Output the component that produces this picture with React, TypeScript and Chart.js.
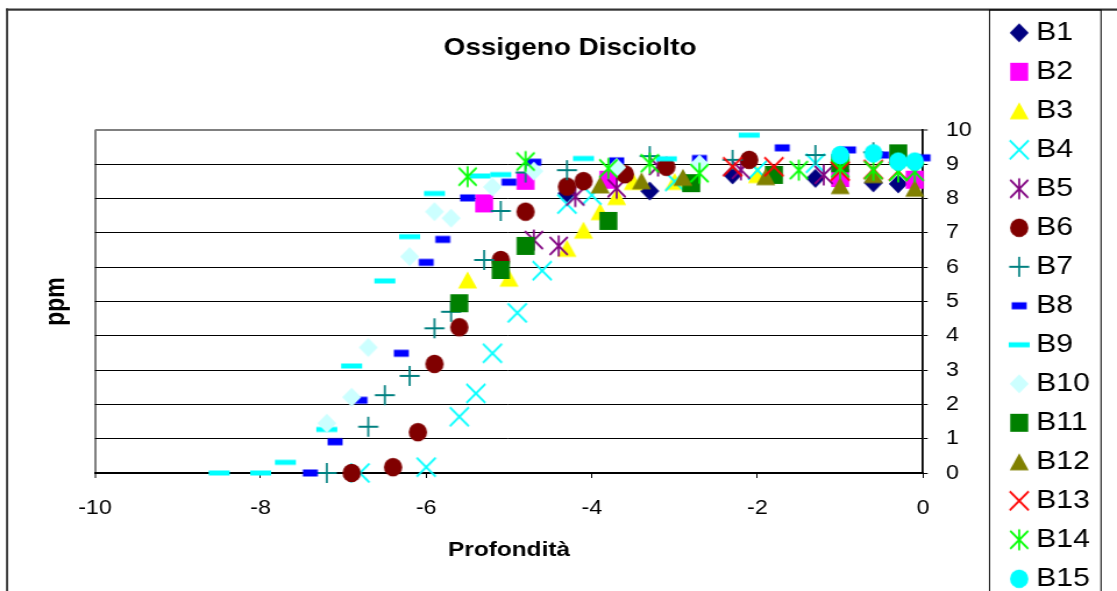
import React, { useEffect, useRef } from 'react';
import { Chart, registerables } from 'chart.js';

Chart.register(...registerables);

const FONT = "'Liberation Sans', Arial, Helvetica, sans-serif";
// the reference picture is stretched horizontally; the canvas is drawn narrower and widened by CSS
const STRETCH = 1117 / 960;
const CANVAS_W = 960;
const CANVAS_H = 760;

const chartTitle = 'Ossigeno Disciolto';
const xAxisTitle = 'Profondità';
const yAxisTitle = 'ppm';

const seriesNames = ['B1', 'B2', 'B3', 'B4', 'B5', 'B6', 'B7', 'B8', 'B9', 'B10', 'B11', 'B12', 'B13', 'B14', 'B15'];
const seriesColors = ['#000080', '#FF00FF', '#FFFF00', '#00FFFF', '#800080', '#800000', '#008080', '#0000FF', '#00FFFF', '#CCFFFF', '#008000', '#808000', '#FF0000', '#00FF00', '#00FFFF'];
const seriesMarkers = ['diamond', 'square', 'triangle', 'x', 'star', 'circle', 'plus', 'dashShort', 'dashLong', 'diamond', 'square', 'triangle', 'x', 'star', 'circle'];

const b1Depth = [-4.3, -3.3, -2.3, -1.3, -0.6, -0.3];
const b1Ppm = [8.15, 8.22, 8.69, 8.59, 8.46, 8.43];
const b2Depth = [-5.3, -4.8, -3.8, -1.0, -0.1];
const b2Ppm = [7.86, 8.52, 8.55, 8.6, 8.55];
const b3Depth = [-5.5, -5.0, -4.3, -4.1, -3.9, -3.7, -3.5, -3.0, -2.0];
const b3Ppm = [5.63, 5.68, 6.55, 7.08, 7.62, 8.06, 8.5, 8.5, 8.7];
const b4Depth = [-6.8, -6.0, -5.6, -5.4, -5.2, -4.9, -4.6, -4.3, -4.0, -3.0, -2.0, -1.3];
const b4Ppm = [0, 0.17, 1.64, 2.32, 3.49, 4.67, 5.9, 7.84, 8.1, 8.5, 8.83, 9.03];
const b5Depth = [-4.7, -4.4, -4.2, -3.7, -3.2, -2.2, -1.2];
const b5Ppm = [6.79, 6.62, 8.06, 8.3, 8.95, 8.84, 8.69];
const b6Depth = [-6.9, -6.4, -6.1, -5.9, -5.6, -5.1, -4.8, -4.3, -4.1, -3.6, -3.1, -2.1];
const b6Ppm = [0, 0.17, 1.19, 3.18, 4.25, 6.21, 7.62, 8.35, 8.51, 8.71, 8.93, 9.13];
const b7Depth = [-7.2, -6.7, -6.5, -6.2, -5.9, -5.7, -5.3, -5.1, -4.8, -4.3, -3.3, -2.3, -1.3, -0.6];
const b7Ppm = [0, 1.35, 2.27, 2.83, 4.22, 4.7, 6.21, 7.64, 8.76, 8.83, 9.24, 9.13, 9.27, 9.35];
const b8Depth = [-7.4, -7.1, -6.8, -6.3, -6.0, -5.8, -5.5, -5.0, -4.7, -3.7, -2.7, -1.7, -0.9, -0.5, 0];
const b8Ppm = [0, 0.91, 2.12, 3.49, 6.14, 6.81, 8.02, 8.48, 9.06, 9.1, 9.17, 9.48, 9.42, 9.27, 9.19];
const b9Depth = [-8.5, -8.0, -7.7, -7.2, -6.9, -6.5, -6.2, -5.9, -5.35, -5.1, -4.1, -3.1, -2.1];
const b9Ppm = [0, 0, 0.31, 1.27, 3.12, 5.6, 6.89, 8.15, 8.66, 8.7, 9.17, 9.16, 9.85];
const b10Depth = [-7.2, -6.9, -6.7, -6.2, -5.9, -5.7, -5.2, -4.7, -3.7, -2.7];
const b10Ppm = [1.45, 2.21, 3.66, 6.31, 7.62, 7.43, 8.34, 8.8, 8.91, 9.01];
const b11Depth = [-5.6, -5.1, -4.8, -3.8, -2.8, -1.8, -1.0, -0.3];
const b11Ppm = [4.95, 5.92, 6.62, 7.35, 8.45, 8.69, 9.03, 9.32];
const b12Depth = [-3.9, -3.4, -2.9, -1.9, -1.0, -0.6, -0.1];
const b12Ppm = [8.4, 8.52, 8.62, 8.64, 8.38, 8.7, 8.3];
const b13Depth = [-2.3, -1.8, -1.0, -0.6, -0.3];
const b13Ppm = [8.93, 8.93, 8.8, 8.85, 8.8];
const b14Depth = [-5.5, -4.8, -3.8, -3.3, -2.7, -1.5, -1.0, -0.6, -0.3, -0.1];
const b14Ppm = [8.64, 9.08, 8.88, 9.03, 8.74, 8.83, 8.88, 8.83, 8.78, 8.78];
const b15Depth = [-1.0, -0.6, -0.3, -0.1];
const b15Ppm = [9.27, 9.32, 9.08, 9.08];

const seriesDepths = [b1Depth, b2Depth, b3Depth, b4Depth, b5Depth, b6Depth, b7Depth, b8Depth, b9Depth, b10Depth, b11Depth, b12Depth, b13Depth, b14Depth, b15Depth];
const seriesPpms = [b1Ppm, b2Ppm, b3Ppm, b4Ppm, b5Ppm, b6Ppm, b7Ppm, b8Ppm, b9Ppm, b10Ppm, b11Ppm, b12Ppm, b13Ppm, b14Ppm, b15Ppm];

function makeMarker(kind: string, color: string): HTMLCanvasElement {
  const c = document.createElement('canvas');
  c.width = 26;
  c.height = 26;
  const g = c.getContext('2d') as CanvasRenderingContext2D;
  g.translate(13, 13);
  g.scale(1 / STRETCH, 1);
  g.fillStyle = color;
  g.strokeStyle = color;
  g.lineWidth = 2;
  const line = (x1: number, y1: number, x2: number, y2: number) => {
    g.beginPath();
    g.moveTo(x1, y1);
    g.lineTo(x2, y2);
    g.stroke();
  };
  switch (kind) {
    case 'diamond':
      g.beginPath();
      g.moveTo(0, -9.5);
      g.lineTo(9.5, 0);
      g.lineTo(0, 9.5);
      g.lineTo(-9.5, 0);
      g.closePath();
      g.fill();
      break;
    case 'square':
      g.fillRect(-9, -9, 18, 18);
      break;
    case 'triangle':
      g.beginPath();
      g.moveTo(0, -8.5);
      g.lineTo(9.5, 8.5);
      g.lineTo(-9.5, 8.5);
      g.closePath();
      g.fill();
      break;
    case 'x':
      line(-9.5, -9.5, 9.5, 9.5);
      line(-9.5, 9.5, 9.5, -9.5);
      break;
    case 'star':
      line(-9, -9, 9, 9);
      line(-9, 9, 9, -9);
      line(0, -10.5, 0, 10.5);
      break;
    case 'circle':
      g.beginPath();
      g.arc(0, 0, 9.2, 0, Math.PI * 2);
      g.fill();
      break;
    case 'plus':
      line(-10, 0, 10, 0);
      line(0, -10, 0, 10);
      break;
    case 'dashShort':
      g.fillRect(-7.5, -3.5, 15, 7);
      break;
    case 'dashLong':
      g.fillRect(-10.5, -2.5, 21, 5);
      break;
  }
  return c;
}

const framePlugin = {
  id: 'frame',
  beforeDraw(chart: any) {
    const ctx = chart.ctx as CanvasRenderingContext2D;
    ctx.save();
    ctx.fillStyle = '#333333';
    ctx.fillRect(6 / STRETCH, 8.5, CANVAS_W, 2.2);
    ctx.fillRect(6 / STRETCH, 8.5, 1.8, CANVAS_H);
    ctx.strokeStyle = '#000000';
    ctx.lineWidth = 1;
    ctx.strokeRect(989.5 / STRETCH, 10, (1101 - 989.5) / STRETCH, CANVAS_H);
    ctx.restore();
  },
};

export default function App() {
  const ref = useRef<HTMLCanvasElement | null>(null);

  useEffect(() => {
    if (!ref.current) return;
    Chart.defaults.font.family = FONT;
    const datasets = seriesNames.map((name, i) => ({
      label: name,
      data: seriesDepths[i].map((x, j) => ({ x, y: seriesPpms[i][j] })),
      pointStyle: makeMarker(seriesMarkers[i], seriesColors[i]),
      pointRadius: 9,
      pointHoverRadius: 9,
      backgroundColor: seriesColors[i],
      borderColor: seriesColors[i],
      showLine: false,
      clip: false as any,
      order: seriesNames.length - i,
    }));

    const chart = new Chart(ref.current, {
      type: 'scatter',
      data: { datasets },
      plugins: [framePlugin],
      options: {
        responsive: false,
        devicePixelRatio: 1,
        animation: false,
        events: [],
        layout: { padding: { left: 33.05, right: 13.25, top: 6.8, bottom: 0 } },
        plugins: {
          title: {
            display: true,
            text: chartTitle,
            color: '#000',
            font: { size: 24, weight: 'bold', family: FONT },
            padding: { top: 26.8, bottom: 67.6 },
          },
          legend: {
            display: true,
            position: 'right',
            align: 'start',
            labels: {
              usePointStyle: true,
              boxWidth: 3.2,
              padding: 13,
              color: '#000',
              font: { size: 26, family: FONT },
              sort: (a: any, b: any) => a.datasetIndex - b.datasetIndex,
            },
          },
          tooltip: { enabled: false },
        },
        scales: {
          x: {
            type: 'linear',
            position: 'bottom',
            min: -10,
            max: 0,
            ticks: { stepSize: 2, font: { size: 20 }, color: '#000', padding: 18, maxRotation: 0, autoSkip: false },
            grid: {
              display: true,
              drawOnChartArea: true,
              drawTicks: true,
              tickLength: 5,
              tickColor: '#000',
              tickWidth: 1,
              color: (c: any) => (c.tick && c.tick.value === -10 ? '#808080' : 'rgba(0,0,0,0)'),
              lineWidth: (c: any) => (c.tick && c.tick.value === -10 ? 2 : 1),
            },
            border: { display: true, color: '#000', width: 2 },
            title: {
              display: true,
              text: xAxisTitle,
              color: '#000',
              font: { size: 21, weight: 'bold' },
              padding: { top: 0, bottom: 197.4 },
            },
            afterFit: (s: any) => {
              s.height = 287;
            },
          },
          y: {
            type: 'linear',
            position: 'right',
            min: 0,
            max: 10,
            ticks: { stepSize: 1, font: { size: 20 }, color: '#000', padding: 15.6 },
            grid: {
              drawTicks: true,
              tickLength: 4,
              tickColor: '#000',
              tickWidth: 1,
              color: (c: any) => (c.tick && c.tick.value === 10 ? '#808080' : '#000'),
              lineWidth: (c: any) => (c.tick && c.tick.value === 10 ? 2 : 1),
            },
            border: { display: true, color: '#000', width: 1.8 },
            afterFit: (s: any) => {
              s.width = 68;
            },
          },
          yL: {
            type: 'linear',
            position: 'left',
            display: true,
            min: 0,
            max: 1,
            ticks: { display: false },
            grid: { display: false, drawTicks: false },
            border: { display: false },
            title: {
              display: true,
              text: yAxisTitle,
              color: '#000',
              font: { size: 23, weight: 'bold' },
              padding: { top: 2.15, bottom: 0 },
            },
            afterFit: (s: any) => {
              s.width = 48.55;
            },
          },
        },
      } as any,
    });
    return () => chart.destroy();
  }, []);

  return (
    <div
      style={{
        position: 'fixed',
        left: 0,
        top: 0,
        width: '1117px',
        height: '591px',
        overflow: 'hidden',
        background: '#ffffff',
      }}
    >
      <canvas
        ref={ref}
        width={CANVAS_W}
        height={CANVAS_H}
        style={{ width: '1117px', height: `${CANVAS_H}px`, display: 'block' }}
      />
    </div>
  );
}
